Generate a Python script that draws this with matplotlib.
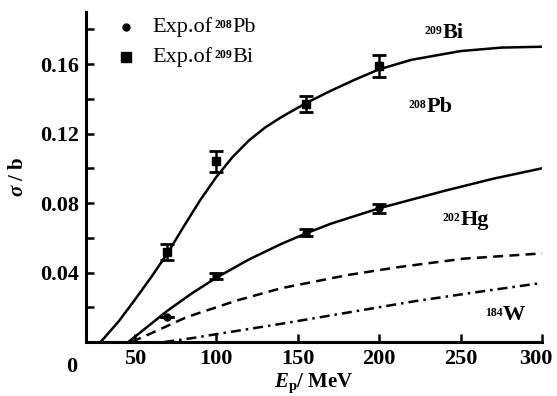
import matplotlib
matplotlib.use("Agg")
import matplotlib.pyplot as plt
from matplotlib.ticker import MultipleLocator
from matplotlib.transforms import ScaledTranslation

plt.rcParams['font.family'] = ['Liberation Serif', 'DejaVu Serif']
plt.rcParams['mathtext.fontset'] = 'custom'
plt.rcParams['mathtext.rm'] = 'Liberation Serif:bold'
plt.rcParams['mathtext.it'] = 'Liberation Serif:bold:italic'
plt.rcParams['mathtext.default'] = 'regular'

# Theoretical curves
bi_x = [29, 40, 50, 60, 70, 80, 90, 100, 110, 120, 130, 140, 155, 170, 185, 200, 220, 250, 275, 300]
bi_y = [0, 0.0118, 0.0243, 0.0373, 0.051, 0.0665, 0.0815, 0.095, 0.1065, 0.116, 0.1235, 0.1295, 0.1375,
        0.1445, 0.151, 0.157, 0.1625, 0.1675, 0.1695, 0.170]
pb_x = [46, 60, 70, 85, 100, 120, 140, 155, 170, 200, 240, 270, 300]
pb_y = [0, 0.0105, 0.018, 0.028, 0.037, 0.0475, 0.0565, 0.0625, 0.068, 0.077, 0.087, 0.094, 0.100]
hg_x = [48, 60, 82, 113, 140, 181, 211, 252, 300]
hg_y = [0, 0.005, 0.0144, 0.024, 0.031, 0.0386, 0.043, 0.048, 0.051]
w_x = [68, 85, 102, 120, 140, 181, 222, 262, 300]
w_y = [0, 0.0022, 0.0048, 0.0075, 0.0105, 0.017, 0.0235, 0.029, 0.034]

# Experimental data
exp_bi_x = [70, 100, 155, 200]
exp_bi_y = [0.052, 0.104, 0.137, 0.159]
exp_bi_err = [0.0045, 0.006, 0.0045, 0.0065]
exp_pb_x = [70, 100, 155, 200]
exp_pb_y = [0.0145, 0.038, 0.063, 0.077]
exp_pb_err = [0.0, 0.002, 0.002, 0.0025]

x_ticks = [50, 100, 150, 200, 250, 300]
y_ticks = [0.04, 0.08, 0.12, 0.16]

fig = plt.figure(figsize=(5.57, 3.96), dpi=100)
ax = fig.add_axes([86/557, 54/396, 456/557, 330/396])

lw = 1.8
ax.plot(bi_x, bi_y, color='black', lw=lw)
ax.plot(pb_x, pb_y, color='black', lw=lw)
ax.plot(hg_x, hg_y, color='black', lw=lw, ls=(0, (4, 2.5)))
ax.plot(w_x, w_y, color='black', lw=lw, ls=(0, (4, 2, 1, 2)))

ax.errorbar(exp_bi_x, exp_bi_y, yerr=exp_bi_err, fmt='s', color='black', ms=6,
            capsize=5, elinewidth=1.8, capthick=2.0)
ax.errorbar(exp_pb_x, exp_pb_y, yerr=exp_pb_err, fmt='o', color='black', ms=5,
            capsize=5, elinewidth=1.8, capthick=2.0)

ax.set_xlim(20, 300)
ax.set_ylim(0, 0.19)
ax.set_xticks(x_ticks)
ax.set_xticklabels([str(v) for v in x_ticks])
ax.set_yticks(y_ticks)
ax.set_yticklabels([f"{v:.2f}" for v in y_ticks])
ax.yaxis.set_minor_locator(MultipleLocator(0.02))

for s in ['top', 'right']:
    ax.spines[s].set_visible(False)
for s in ['left', 'bottom']:
    ax.spines[s].set_linewidth(2.2)

ax.tick_params(axis='both', which='both', direction='in', width=1.8, labelsize=16, pad=5)
ax.tick_params(axis='both', which='major', length=6)
ax.tick_params(axis='y', which='minor', length=6)
for lab in ax.get_xticklabels() + ax.get_yticklabels():
    lab.set_fontweight('bold')
last = ax.get_xticklabels()[-1]
last.set_transform(last.get_transform() + ScaledTranslation(-4.5 / 72, 0, fig.dpi_scale_trans))

# origin label
ax.text((72 - 86) / 456, -0.045, "0", transform=ax.transAxes, ha='center', va='top',
        fontsize=16, fontweight='bold', clip_on=False)

ax.set_ylabel(r"$\mathit{\sigma}$ / b", fontsize=15, fontweight='bold', labelpad=9)
ax.set_xlabel(r"$\mathit{E}_\mathrm{p}$/ MeV", fontsize=15, fontweight='bold', labelpad=2)


def iso_label(x, y, sup, main, transform, weight, size=16, supsize=8.5):
    """Main text at (x, y) left-aligned, with a small left superscript."""
    t = ax.text(x, y, main, transform=transform, ha='left', va='center',
                fontsize=size, fontweight=weight)
    ax.annotate(sup, xy=(0, 1), xycoords=t, xytext=(-0.3, -1.5), textcoords='offset points',
                ha='right', va='top', fontsize=supsize, fontweight='bold')
    return t


def legend_entry(x, y, main, sup, el):
    t1 = ax.text(x, y, main, transform=ax.transAxes, ha='left', va='center', fontsize=16)
    t2 = ax.annotate(sup, xy=(1, 1), xycoords=t1, xytext=(1.5, -1.5), textcoords='offset points',
                     ha='left', va='top', fontsize=8.5, fontweight='bold')
    ax.annotate(el, xy=(1, 0), xycoords=(t2, t1), xytext=(0.3, 0), textcoords='offset points',
                ha='left', va='bottom', fontsize=16)


# legend (manual)
ax.plot([0.0877], [0.9545], 'o', color='black', ms=5, transform=ax.transAxes, clip_on=False)
ax.plot([0.0877], [0.8636], 's', color='black', ms=6.5, transform=ax.transAxes, clip_on=False)
legend_entry(0.1447, 0.9545, "Exp.of", "208", "Pb")
legend_entry(0.1447, 0.8636, "Exp.of", "209", "Bi")

# curve labels
iso_label(239.2, 0.178, "209", "Bi", ax.transData, 'bold')
iso_label(229.4, 0.1353, "208", "Pb", ax.transData, 'bold')
iso_label(250.2, 0.0702, "202", "Hg", ax.transData, 'bold')
iso_label(276.0, 0.0155, "184", "W", ax.transData, 'bold')

fig.savefig("out.png", dpi=100)
